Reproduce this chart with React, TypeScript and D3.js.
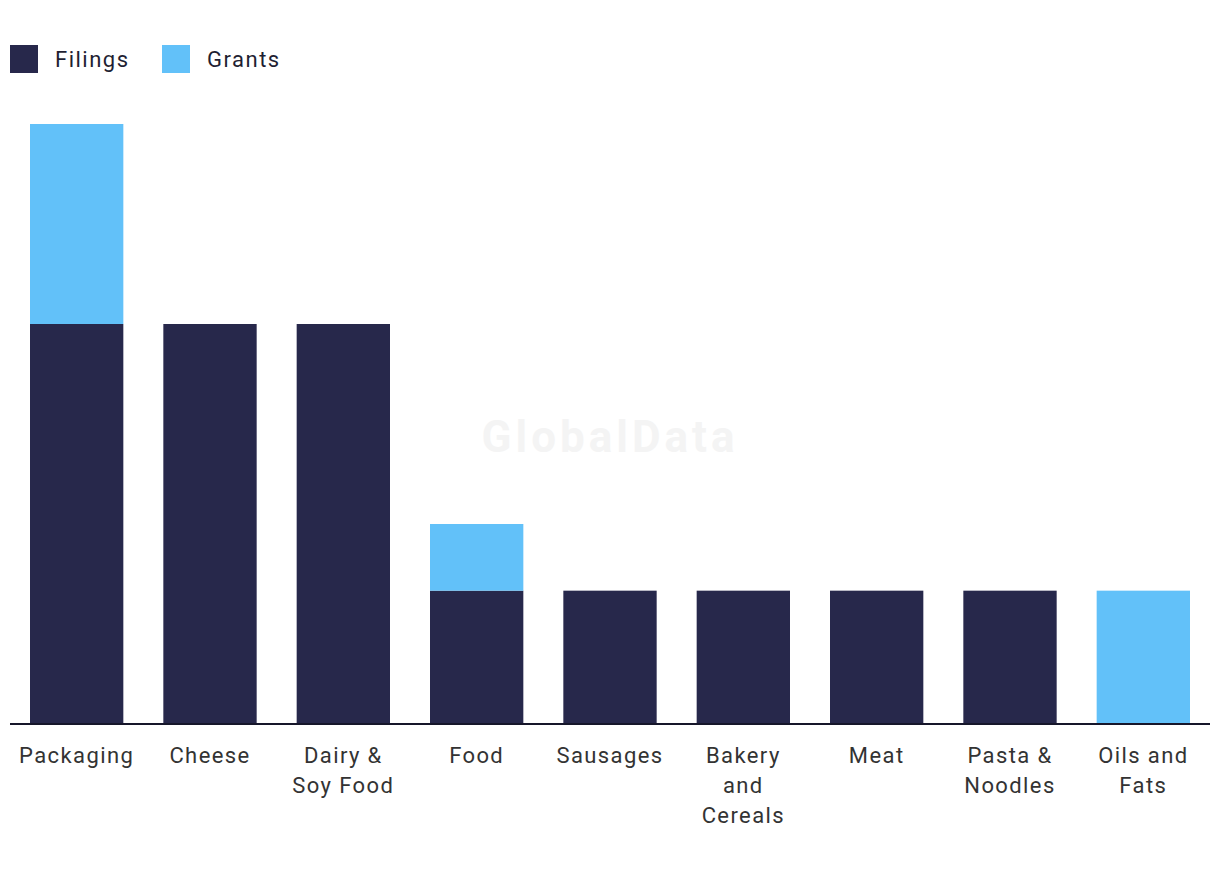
import React from "react";
import * as d3 from "d3";

const categories = ["Packaging", "Cheese", "Dairy & Soy Food", "Food", "Sausages", "Bakery and Cereals", "Meat", "Pasta & Noodles", "Oils and Fats"];
const labelLines = [["Packaging"], ["Cheese"], ["Dairy &", "Soy Food"], ["Food"], ["Sausages"], ["Bakery", "and", "Cereals"], ["Meat"], ["Pasta &", "Noodles"], ["Oils and", "Fats"]];
const filings = [6, 6, 6, 2, 2, 2, 2, 2, 0];
const grants = [3, 0, 0, 1, 0, 0, 0, 0, 2];
const seriesNames = ["Filings", "Grants"];
const colors = ["#27284b", "#62c1f9"];

const W = 1220, H = 880;
const margin = { left: 10, right: 10, top: 124, bottom: 156 };

export default function App() {
  const x = d3.scaleBand<string>().domain(categories).range([margin.left, W - margin.right]).paddingInner(0.3).paddingOuter(0.15);
  const y = d3.scaleLinear().domain([0, 9]).range([H - margin.bottom, margin.top]);
  const rows = categories.map((c, i) => ({ c, Filings: filings[i], Grants: grants[i] }));
  const stacked = d3.stack<any>().keys(seriesNames)(rows);
  const font = "Roboto, 'Liberation Sans', sans-serif";
  return (
    <svg width={W} height={H} style={{ position: "absolute", left: 0, top: 0, background: "#fff" }} fontFamily={font}>
      <text x={610} y={440} textAnchor="middle" dominantBaseline="middle" fontSize={44} fontWeight={700} letterSpacing={4} fill="#f4f4f4">GlobalData</text>
      {stacked.map((s, si) => (
        <g key={s.key} fill={colors[si]}>
          {s.map((d, i) => d[1] - d[0] > 0 ? (
            <rect key={i} x={x(categories[i])} width={x.bandwidth()} y={y(d[1])} height={y(d[0]) - y(d[1])} />
          ) : null)}
        </g>
      ))}
      <line x1={margin.left} x2={W - margin.right} y1={y(0)} y2={y(0)} stroke="#16162a" strokeWidth={2} />
      {categories.map((c, i) => (
        <text key={c} x={x(c)! + x.bandwidth() / 2} textAnchor="middle" fontSize={22} letterSpacing={1.4} fill="#333" >
          {labelLines[i].map((l, j) => (
            <tspan key={j} x={x(c)! + x.bandwidth() / 2} y={763 + j * 30}>{l}</tspan>
          ))}
        </text>
      ))}
      {seriesNames.map((n, i) => (
        <g key={n} transform={`translate(${[10, 162][i]},45)`}>
          <rect width={28} height={28} fill={colors[i]} />
          <text x={45} y={14} dominantBaseline="central" fontSize={22} letterSpacing={1.5} fill="#1f1f33">{n}</text>
        </g>
      ))}
    </svg>
  );
}
